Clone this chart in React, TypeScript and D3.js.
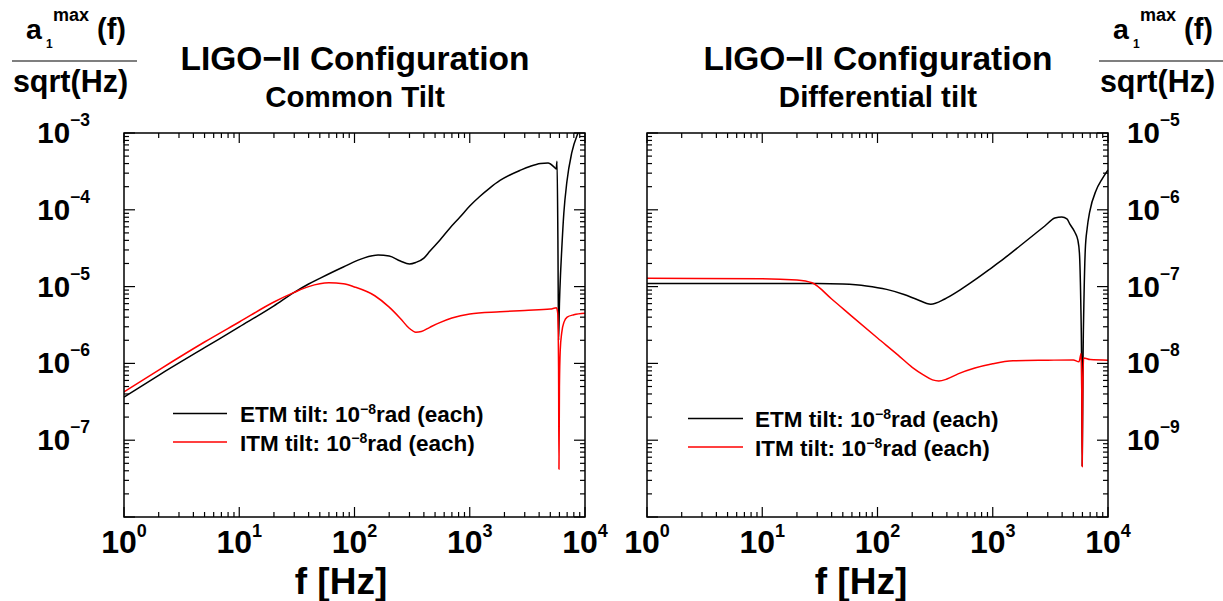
import * as React from "react";
import * as d3 from "d3";

type Pt = [number, number];

// [frequency Hz, amplitude]
const etmCommon: Pt[] = [
    [1, 3.65e-7], [2, 7.0e-7], [5, 1.6e-6], [10, 2.98e-6], [20, 5.6e-6], [30, 8.4e-6],
    [40, 1.08e-5], [50, 1.28e-5], [80, 1.8e-5], [120, 2.35e-5], [160, 2.57e-5], [200, 2.5e-5],
    [250, 2.15e-5], [300, 1.97e-5], [340, 2.06e-5], [400, 2.35e-5], [452, 2.91e-5],
    [552, 4.05e-5], [674, 5.8e-5], [823, 8.05e-5], [1000, 1.12e-4], [1220, 1.49e-4],
    [1490, 1.92e-4], [1830, 2.41e-4], [2230, 2.84e-4], [2720, 3.25e-4], [3320, 3.67e-4],
    [4110, 4.01e-4], [4780, 4.07e-4], [5400, 3.6e-4], [5620, 3.4e-4], [5720, 4.3e-4],
    [5820, 4.0e-5], [5900, 2.0e-6], [6000, 6.0e-6], [6150, 1.6e-5], [6280, 3.0e-5],
    [6550, 9.0e-5], [6960, 2.3e-4], [7670, 5.5e-4], [8700, 1.0e-3], [10000, 1.5e-3],
];

const itmCommon: Pt[] = [
    [1, 4.25e-7], [2, 8.2e-7], [5, 1.9e-6], [10, 3.46e-6], [20, 6.3e-6], [30, 8.4e-6],
    [40, 1.0e-5], [60, 1.12e-5], [80, 1.09e-5], [100, 9.9e-6], [150, 7.6e-6], [200, 5.4e-6],
    [250, 3.85e-6], [300, 2.85e-6], [340, 2.55e-6], [380, 2.6e-6], [450, 2.95e-6],
    [550, 3.4e-6], [700, 3.9e-6], [1000, 4.4e-6], [1830, 4.7e-6], [3000, 4.9e-6],
    [5000, 5.1e-6], [5650, 5.3e-6], [5800, 4.5e-6], [5900, 8.0e-7], [5945, 4.2e-8],
    [6000, 5.0e-7], [6100, 1.5e-6], [6280, 2.5e-6], [6600, 3.5e-6], [7000, 4.0e-6],
    [8000, 4.3e-6], [10000, 4.5e-6],
];

const etmDiff: Pt[] = [
    [1, 1.1e-7], [10, 1.1e-7], [30, 1.1e-7], [50, 1.08e-7], [80, 1.02e-7], [120, 9.2e-8],
    [170, 7.9e-8], [220, 6.8e-8], [290, 5.9e-8], [384, 6.9e-8], [518, 9.0e-8],
    [699, 1.22e-7], [944, 1.69e-7], [1273, 2.36e-7], [1718, 3.38e-7], [2317, 4.84e-7],
    [2830, 6.15e-7], [3456, 7.8e-7], [3975, 8.05e-7], [4400, 7.6e-7], [4700, 6.4e-7],
    [5160, 5.1e-7], [5470, 4.05e-7], [5650, 2.74e-7], [5800, 6.7e-8], [5900, 1.1e-8],
    [5975, 4.6e-10], [6070, 1.1e-8], [6200, 8.0e-8], [6350, 3.0e-7], [6600, 5.8e-7],
    [6930, 9.3e-7], [7900, 1.8e-6], [8800, 2.45e-6], [10000, 3.3e-6],
];

const itmDiff: Pt[] = [
    [1, 1.28e-7], [10, 1.27e-7], [20, 1.22e-7], [27, 1.12e-7], [40, 6.9e-8], [60, 4.1e-8],
    [100, 2.14e-8], [150, 1.29e-8], [200, 8.9e-9], [250, 7.1e-9], [300, 6.1e-9], [340, 5.9e-9],
    [400, 6.25e-9], [500, 7.3e-9], [700, 8.7e-9], [1000, 9.9e-9], [1500, 1.08e-8],
    [3000, 1.1e-8], [5000, 1.11e-8], [5600, 1.05e-8], [5850, 1.35e-8], [5930, 3e-9],
    [5970, 4.5e-10], [6020, 3e-9], [6150, 1.18e-8], [7000, 1.12e-8], [10000, 1.1e-8],
];

const xExponents = [0, 1, 2, 3, 4];
const commonExponents = [-3, -4, -5, -6, -7];
const diffExponents = [-5, -6, -7, -8, -9];
const legendLabels = ["ETM tilt: 10", "ITM tilt: 10"];

const FONT = "'Liberation Sans', Arial, Helvetica, sans-serif";
const MINUS = "\u2212";
const fmtExp = (e: number) => (e < 0 ? MINUS + Math.abs(e) : String(e));

interface PanelProps {
    id: string;
    left: number;
    right: number;
    yDomain: [number, number];
    etm: Pt[];
    itm: Pt[];
    title: string;
    subtitle: string;
    yLabels: number[];
    labelsOnRight: boolean;
    legend: { x1: number; x2: number; tx: number; y: number };
    xTitleX: number;
}

const TOP = 133;
const BOTTOM = 517;

const logTicks = (lo: number, hi: number) => {
    const out: { v: number; major: boolean }[] = [];
    for (let d = lo; d < hi; d++) {
        for (let k = 1; k <= 9; k++) out.push({ v: k * Math.pow(10, d), major: k === 1 });
    }
    out.push({ v: Math.pow(10, hi), major: true });
    return out;
};

const Panel: React.FC<PanelProps> = (p) => {
    const x = d3.scaleLog().domain([1, 1e4]).range([p.left, p.right]);
    const y = d3.scaleLog().domain(p.yDomain).range([BOTTOM, TOP]);
    const line = d3.line<Pt>()
        .x(d => x(d[0]))
        .y(d => y(d[1]))
        .curve(d3.curveMonotoneX);

    const xt = logTicks(0, 4);
    const yt = logTicks(Math.log10(p.yDomain[0]), Math.log10(p.yDomain[1]));
    const titleCx = (p.left + p.right) / 2 + 0.5;

    return (
        <g>
            <defs>
                <clipPath id={p.id}>
                    <rect x={p.left} y={TOP} width={p.right - p.left} height={BOTTOM - TOP} />
                </clipPath>
            </defs>

            <text x={titleCx} y={70} textAnchor="middle" fontSize={33.5} fontWeight="bold">{p.title}</text>
            <text x={titleCx} y={107} textAnchor="middle" fontSize={29.5} fontWeight="bold">{p.subtitle}</text>

            <g clipPath={`url(#${p.id})`} fill="none" strokeWidth={1.5} strokeLinejoin="round">
                <path d={line(p.etm) || ""} stroke="#000" />
                <path d={line(p.itm) || ""} stroke="#ff0000" />
            </g>

            <g stroke="#000" strokeWidth={1.2}>
                {xt.map((t, i) => {
                    const px = x(t.v);
                    const len = t.major ? 10 : 5;
                    return (
                        <g key={"x" + i}>
                            <line x1={px} x2={px} y1={BOTTOM} y2={BOTTOM - len} />
                            <line x1={px} x2={px} y1={TOP} y2={TOP + len} />
                        </g>
                    );
                })}
                {yt.map((t, i) => {
                    const py = y(t.v);
                    const len = t.major ? 11 : 5;
                    return (
                        <g key={"y" + i}>
                            <line x1={p.left} x2={p.left + len} y1={py} y2={py} />
                            <line x1={p.right} x2={p.right - len} y1={py} y2={py} />
                        </g>
                    );
                })}
            </g>
            <rect x={p.left} y={TOP} width={p.right - p.left} height={BOTTOM - TOP}
                fill="none" stroke="#000" strokeWidth={1.5} />

            {xExponents.map(e => (
                <text key={"xl" + e} x={x(Math.pow(10, e))} y={553} textAnchor="middle"
                    fontSize={32} fontWeight="bold">
                    10<tspan dy={-16} fontSize={18}>{fmtExp(e)}</tspan>
                </text>
            ))}

            {p.yLabels.map(e => (
                <text key={"yl" + e} x={p.labelsOnRight ? 1127 : 90} y={y(Math.pow(10, e)) + 10}
                    textAnchor={p.labelsOnRight ? "start" : "end"} fontSize={29.5} fontWeight="bold">
                    10<tspan dy={-17} fontSize={17.5}>{fmtExp(e)}</tspan>
                </text>
            ))}

            <text x={p.xTitleX} y={594} textAnchor="middle" fontSize={37} fontWeight="bold">f [Hz]</text>

            {legendLabels.map((lab, i) => {
                const ly = p.legend.y + i * 28.5;
                return (
                    <g key={"lg" + i}>
                        <line x1={p.legend.x1} x2={p.legend.x2} y1={ly} y2={ly}
                            stroke={i === 0 ? "#000" : "#ff0000"} strokeWidth={1.5} />
                        <text x={p.legend.tx} y={ly + 8.5} fontSize={22.5} fontWeight="bold">
                            {lab}<tspan dy={-8} fontSize={14}>{MINUS}8</tspan>
                            <tspan dy={8}>rad (each)</tspan>
                        </text>
                    </g>
                );
            })}
        </g>
    );
};

const YTitle: React.FC<{ dx: number }> = ({ dx }) => (
    <g transform={`translate(${dx},0)`} fontWeight="bold">
        <text x={26} y={39} fontSize={28.5}>a</text>
        <text x={46} y={47.5} fontSize={12}>1</text>
        <text x={53} y={21} fontSize={18}>max</text>
        <text x={97} y={39} fontSize={29}>(f)</text>
        <line x1={12} x2={137} y1={61} y2={61} stroke="#000" strokeWidth={1.2} />
        <text x={70.5} y={92} textAnchor="middle" fontSize={30.5}>sqrt(Hz)</text>
    </g>
);

const App: React.FC = () => (
    <svg width={1223} height={601} viewBox="0 0 1223 601"
        style={{ position: "absolute", left: 0, top: 0, background: "#fff" }}
        fontFamily={FONT}>
        <rect width={1223} height={601} fill="#fff" />
        <YTitle dx={0} />
        <YTitle dx={1087} />
        <Panel id="clipCommon" left={124} right={585} yDomain={[1e-8, 1e-3]}
            etm={etmCommon} itm={itmCommon}
            title={`LIGO${MINUS}II Configuration`} subtitle="Common Tilt"
            yLabels={commonExponents} labelsOnRight={false}
            legend={{ x1: 173, x2: 227, tx: 240, y: 413.5 }} xTitleX={341} />
        <Panel id="clipDiff" left={647} right={1108} yDomain={[1e-10, 1e-5]}
            etm={etmDiff} itm={itmDiff}
            title={`LIGO${MINUS}II Configuration`} subtitle="Differential tilt"
            yLabels={diffExponents} labelsOnRight={true}
            legend={{ x1: 688, x2: 743, tx: 755, y: 418.5 }} xTitleX={861} />
    </svg>
);

export default App;
